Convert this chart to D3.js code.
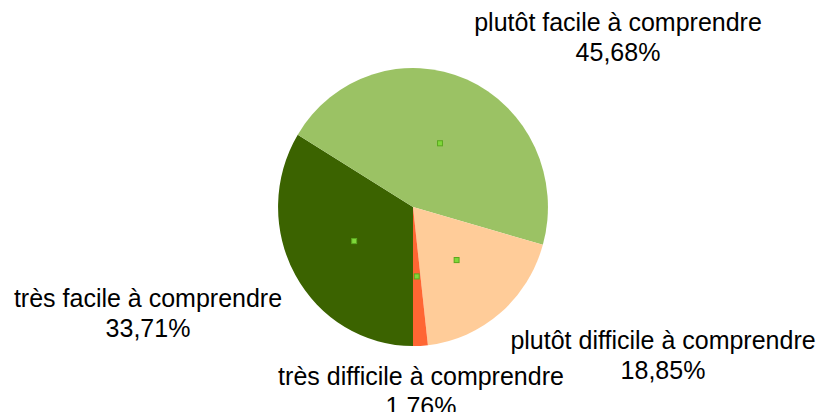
<!DOCTYPE html>
<html><head><meta charset="utf-8">
<script src="https://cdn.jsdelivr.net/npm/d3@7"></script>
<style>body{margin:0;background:#fff}svg{display:block}text{font-family:"Liberation Sans",Arial,sans-serif;fill:#000}</style>
</head><body>
<svg id="c" width="822" height="412"></svg>
<script>
const categories = ["très facile à comprendre","plutôt facile à comprendre","plutôt difficile à comprendre","très difficile à comprendre"];
const values = [33.71, 45.68, 18.85, 1.76];
const valueLabels = ["33,71%","45,68%","18,85%","1,76%"];
const colors = ["#3b6300","#9bc264","#ffcc99","#ff6633"];

const svg = d3.select("#c");
const cx = 413, cy = 207, r = 137;
const g = svg.append("g").attr("transform", `translate(${cx},${cy}) scale(0.985,1.015)`);
const pie = d3.pie().sort(null).value(d => d).startAngle(Math.PI).endAngle(3*Math.PI);
const arcs = pie(values);
const arc = d3.arc().innerRadius(0).outerRadius(r);
g.selectAll("path").data(arcs).join("path").attr("d", arc).attr("fill", (d,i) => colors[i]);

const mArc = d3.arc().innerRadius(r*0.5).outerRadius(r*0.5);
g.selectAll("rect.m").data(arcs).join("rect").attr("class","m")
  .attr("x", d => mArc.centroid(d)[0]-2.5).attr("y", d => mArc.centroid(d)[1]-2.5)
  .attr("width",5).attr("height",5).attr("fill","#7fd83a").attr("stroke","#5aa81f").attr("stroke-width",1);

const labelPos = [[148,298],[618,22],[663,340],[421,376]];
const lab = svg.selectAll("g.lab").data(arcs).join("g").attr("class","lab")
  .attr("transform", (d,i) => `translate(${labelPos[i][0]},${labelPos[i][1]})`);
lab.append("text").attr("text-anchor","middle").attr("y",9).attr("font-size",25).text((d,i)=>categories[i]);
lab.append("text").attr("text-anchor","middle").attr("y",39).attr("font-size",25).text((d,i)=>valueLabels[i]);
</script>
</body></html>
